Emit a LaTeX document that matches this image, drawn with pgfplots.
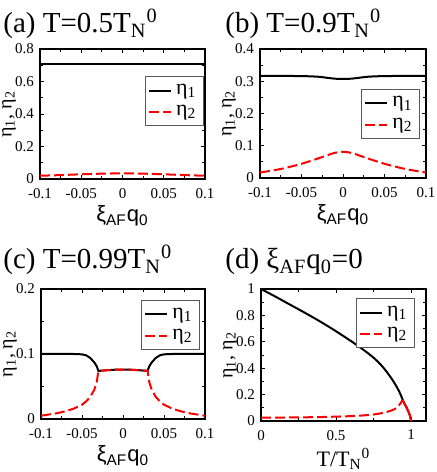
\documentclass[border=0pt]{standalone}
\usepackage{fontspec}
\setmainfont{Liberation Serif}
\newfontfamily\arial{Liberation Sans}
\usepackage{pgfplots}
\pgfplotsset{compat=1.18}

\pgfplotsset{
  panel/.style={
    scale only axis, anchor=north west,
    axis line style={line width=0.6pt},
    every tick/.style={black, line width=0.5pt},
    major tick length=2.2pt, minor tick length=1.3pt,
    minor tick num=1,
    tick label style={font=\fontsize{7.5}{8}\selectfont},
    xticklabel style={yshift=-1pt},
    yticklabel style={xshift=0.5pt},
    /pgf/number format/assume math mode=true,
    label style={font=\fontsize{11}{12}\selectfont},
    xlabel style={yshift=3pt},
    ylabel={η\textsubscript{1}, η\textsubscript{2}},
    every axis y label/.style={at={(rel axis cs:0,0.5)}, rotate=90,
      anchor=center, inner sep=0pt, yshift=15.5pt},
    legend style={draw=black!65, line width=0.6pt, fill=white,
      font=\fontsize{11}{12}\selectfont, inner sep=1.5pt,
      row sep=0pt, cells={anchor=west}},
    legend image code/.code={\draw[##1] (0pt,0pt) -- (11pt,0pt);},
  },
  xi/.style={
    xmin=-0.1, xmax=0.1,
    xtick={-0.1,-0.05,0,0.05,0.1},
    xticklabels={-0.1,-0.05,0,0.05,0.1},
    xlabel={\arial ξ\textsubscript{AF}q\textsubscript{0}},
  },
  eta1/.style={black, line width=1pt},
  eta2/.style={red, line width=1pt, dash pattern=on 5pt off 2pt},
}

\begin{document}
\begin{tikzpicture}
\useasboundingbox (0,0) rectangle (218pt,236pt);

\tikzset{ttl/.style={anchor=base west, font=\fontsize{14.5}{15}\selectfont, inner sep=0pt}}
\node[ttl] at (1.5pt,219.5pt) {(a) T=0.5T\textsubscript{N}\textsuperscript{0}};
\node[ttl] at (112.5pt,219.5pt) {(b) T=0.9T\textsubscript{N}\textsuperscript{0}};
\node[ttl] at (1.5pt,101.5pt) {(c) T=0.99T\textsubscript{N}\textsuperscript{0}};
\node[ttl] at (112.5pt,101.5pt) {(d) ξ\textsubscript{AF}q\textsubscript{0}=0};

% (a)
\begin{axis}[panel, xi, at={(20pt,211.5pt)}, width=82.5pt, height=65pt,
  ymin=0, ymax=0.8, ytick={0,0.2,0.4,0.6,0.8}, yticklabels={0,0.2,0.4,0.6,0.8},
  legend style={at={(0.994,0.79)}, anchor=north east}]
\addplot[eta1] coordinates {(-0.1,0.71) (0.1,0.71)};
\addplot[eta2] coordinates {(-0.1,0.020) (-0.075,0.024) (-0.05,0.029) (-0.025,0.033) (0,0.035)
  (0.025,0.033) (0.05,0.029) (0.075,0.024) (0.1,0.020)};
\legend{η\textsubscript{1},η\textsubscript{2}}
\end{axis}

% (b)
\begin{axis}[panel, xi, at={(130pt,211.5pt)}, width=83pt, height=64.5pt,
  ymin=0, ymax=0.4, ytick={0,0.1,0.2,0.3,0.4}, yticklabels={0,0.1,0.2,0.3,0.4},
  legend style={at={(0.965,0.69)}, anchor=north east}]
\addplot[eta1, smooth] coordinates {(-0.1,0.317) (-0.05,0.316) (-0.03,0.314) (-0.02,0.311)
  (-0.01,0.308) (0,0.307) (0.01,0.308) (0.02,0.311) (0.03,0.314) (0.05,0.316) (0.1,0.317)};
\addplot[eta2, smooth] coordinates {(-0.1,0.017) (-0.075,0.028) (-0.05,0.044) (-0.025,0.065)
  (-0.01,0.078) (0,0.081) (0.01,0.078) (0.025,0.065) (0.05,0.044) (0.075,0.028) (0.1,0.017)};
\legend{η\textsubscript{1},η\textsubscript{2}}
\end{axis}

% (c)
\begin{axis}[panel, xi, at={(20.5pt,91.5pt)}, width=82pt, height=65pt,
  ymin=0, ymax=0.2, ytick={0,0.1,0.2}, yticklabels={0,0.1,0.2},
  legend style={at={(0.97,0.915)}, anchor=north east}]
\addplot[eta1] coordinates {(-0.1,0.1) (-0.06,0.1) (-0.05,0.0995) (-0.045,0.098) (-0.04,0.094)
  (-0.035,0.087) (-0.032,0.081) (-0.03,0.074) (-0.02,0.075) (-0.01,0.0758) (0,0.076)
  (0.01,0.0758) (0.02,0.075) (0.03,0.074) (0.032,0.081) (0.035,0.087) (0.04,0.094)
  (0.045,0.098) (0.05,0.0995) (0.06,0.1) (0.1,0.1)};
\addplot[eta2] coordinates {(-0.1,0.005) (-0.09,0.007) (-0.08,0.009) (-0.07,0.012) (-0.06,0.016)
  (-0.05,0.022) (-0.045,0.027) (-0.04,0.034) (-0.035,0.045) (-0.032,0.057) (-0.03,0.074)
  (-0.02,0.075) (-0.01,0.0758) (0,0.076) (0.01,0.0758) (0.02,0.075) (0.03,0.074)
  (0.032,0.057) (0.035,0.045) (0.04,0.034) (0.045,0.027) (0.05,0.022) (0.06,0.016)
  (0.07,0.012) (0.08,0.009) (0.09,0.007) (0.1,0.005)};
\legend{η\textsubscript{1},η\textsubscript{2}}
\end{axis}

% (d)
\begin{axis}[panel, at={(130.5pt,91.5pt)}, width=82.5pt, height=66pt,
  xmin=0, xmax=1.1, xtick={0,0.5,1}, xticklabels={0,0.5,1},
  minor xtick={0.25,0.75}, minor tick num=0,
  ymin=0, ymax=1, ytick={0,0.2,0.4,0.6,0.8,1}, yticklabels={0,0.2,0.4,0.6,0.8,1},
  minor ytick={0.1,0.3,0.5,0.7,0.9},
  xlabel={T/T\textsubscript{N}\textsuperscript{0}},
  legend style={at={(0.933,0.93)}, anchor=north east}]
\addplot[eta1, smooth] coordinates {(0,1.0) (0.1,0.94) (0.18,0.89) (0.3,0.815) (0.4,0.75)
  (0.5,0.68) (0.62,0.59) (0.7,0.525) (0.755,0.475) (0.8,0.425) (0.843,0.365) (0.88,0.305)
  (0.91,0.248) (0.93,0.202) (0.943,0.165)};
\addplot[eta2, smooth] coordinates {(0,0.025) (0.2,0.027) (0.4,0.03) (0.62,0.038) (0.755,0.05)
  (0.843,0.07) (0.9,0.096) (0.93,0.134) (0.943,0.16)};
\addplot[eta1, smooth, forget plot] coordinates {(0.943,0.165) (0.955,0.135) (0.97,0.103)
  (0.985,0.066) (0.995,0.035) (1.0,0)};
\addplot[red, line width=1pt, smooth, forget plot] coordinates {(0.943,0.16) (0.955,0.133)
  (0.97,0.101) (0.985,0.065) (0.995,0.034) (1.0,0)};
\legend{η\textsubscript{1},η\textsubscript{2}}
\end{axis}
\end{tikzpicture}
\end{document}
